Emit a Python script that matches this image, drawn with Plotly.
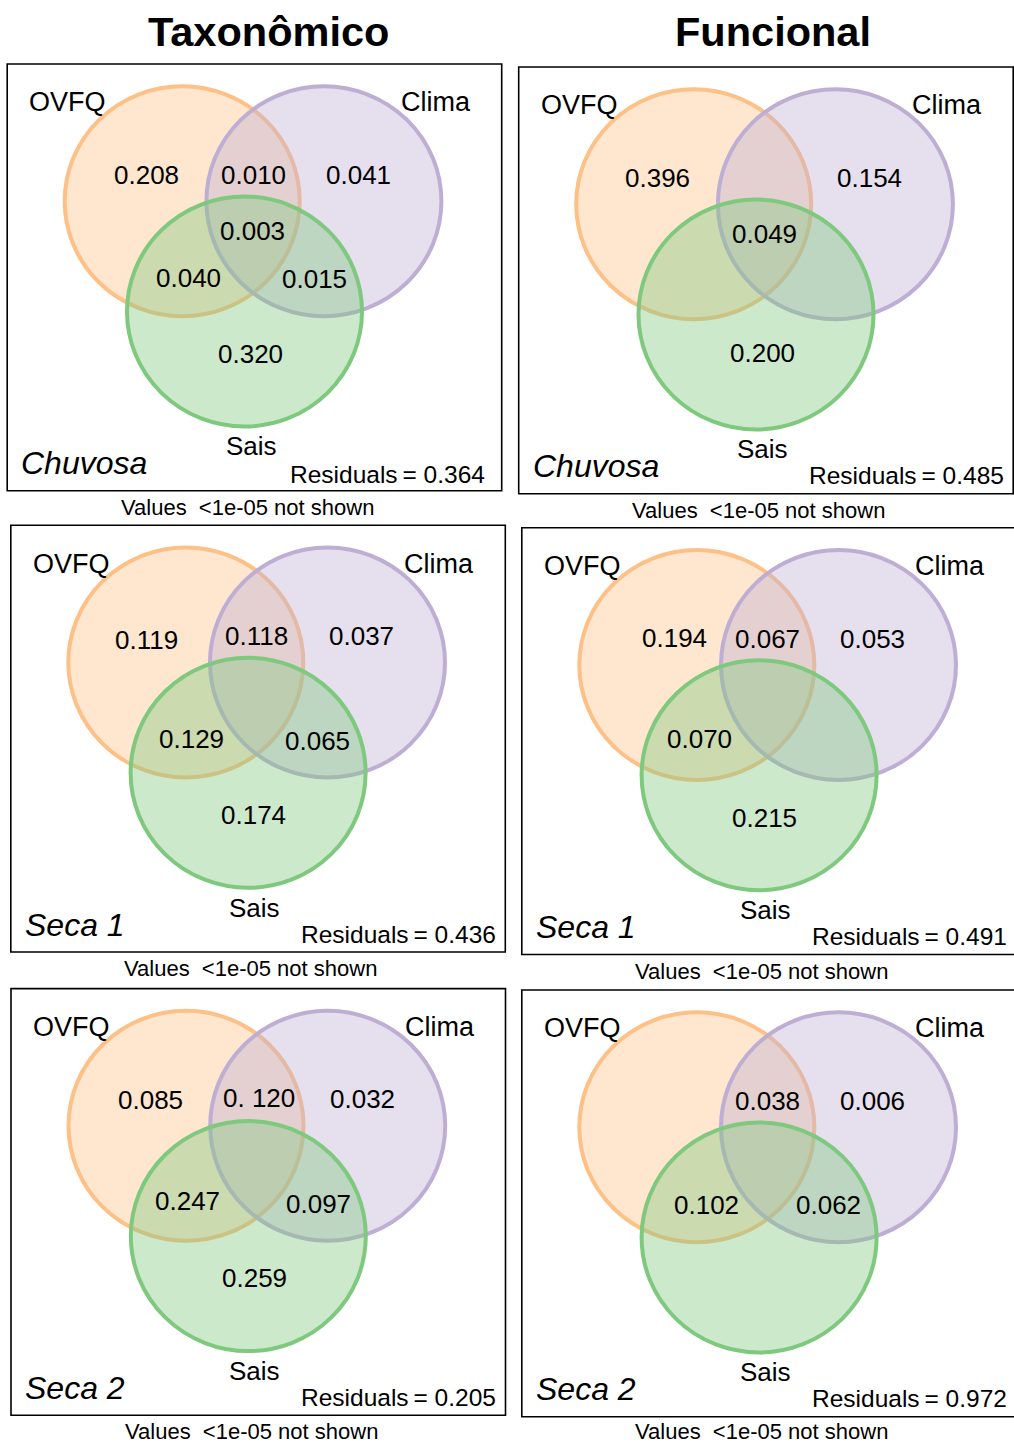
import plotly.graph_objects as go

# ---- data ---------------------------------------------------------------
columns = ["Taxonômico", "Funcional"]
seasons = ["Chuvosa", "Seca 1", "Seca 2"]
sets = ["OVFQ", "Clima", "Sais"]

# Venn regions: a = OVFQ only, ab = OVFQ∩Clima, b = Clima only,
# abc = all three, ac = OVFQ∩Sais, bc = Clima∩Sais, c = Sais only
regions = ["a", "ab", "b", "abc", "ac", "bc", "c"]

tax_chuvosa = [0.208, 0.010, 0.041, 0.003, 0.040, 0.015, 0.320]
tax_seca1 = [0.119, 0.118, 0.037, None, 0.129, 0.065, 0.174]
tax_seca2 = [0.085, 0.120, 0.032, None, 0.247, 0.097, 0.259]
fun_chuvosa = [0.396, None, 0.154, 0.049, None, None, 0.200]
fun_seca1 = [0.194, 0.067, 0.053, None, 0.070, None, 0.215]
fun_seca2 = [None, 0.038, 0.006, None, 0.102, 0.062, None]

tax_residuals = [0.364, 0.436, 0.205]
fun_residuals = [0.485, 0.491, 0.972]

footnote = "Values\u00a0 <1e-05 not shown"

# ---- layout -------------------------------------------------------------
W, H = 1014, 1444
FONT = "Liberation Sans, Arial, sans-serif"

# centre of the OVFQ circle for each panel (pixels)
origins = {
    ("Taxonômico", "Chuvosa"): (182.2, 201.2),
    ("Funcional", "Chuvosa"): (693.7, 204.2),
    ("Taxonômico", "Seca 1"): (185.8, 662.5),
    ("Funcional", "Seca 1"): (696.8, 665.0),
    ("Taxonômico", "Seca 2"): (186.0, 1125.8),
    ("Funcional", "Seca 2"): (696.8, 1127.2),
}
circle_offsets = {"OVFQ": (0, 0), "Clima": (141.7, 0), "Sais": (62.3, 110.3)}
RX, RY = 117.5, 115.0
circle_style = {
    "OVFQ": ("#FDC086", "rgba(253,192,134,0.40)"),
    "Clima": ("#BEAED4", "rgba(190,174,212,0.40)"),
    "Sais": ("#7FC97F", "rgba(127,201,127,0.40)"),
}
set_label_offsets = {"OVFQ": (-114.5, -99), "Clima": (253.5, -99), "Sais": (68.8, 245)}

region_offsets = {
    "a": (-36, -26), "ab": (71, -26.5), "b": (176, -26.5), "abc": (70.5, 30),
    "ac": (6, 76.5), "bc": (132, 78), "c": (68, 152.5),
}
region_overrides = {
    ("Taxonômico", "Seca 1", "a"): (-39.5, -22.5),
    ("Funcional", "Seca 1", "a"): (-22.6, -26.7),
    ("Funcional", "Seca 1", "ac"): (2.7, 74.3),
    ("Taxonômico", "Seca 2", "ac"): (1.8, 75.2),
    ("Taxonômico", "Seca 2", "ab"): (73.2, -27.5),
    ("Funcional", "Chuvosa", "c"): (68.5, 148.8),
    ("Funcional", "Seca 2", "ac"): (9.5, 77.8),
}
label_text_overrides = {("Taxonômico", "Seca 2", "ab"): "0. 120"}

BOX = (-175.0, -137.2, 319.5, 289.5)
SEASON_POS = (-162, 262)
RESID_POS = (311, 271.5)
resid_overrides = {("Taxonômico", "Chuvosa"): (303.5, 272.8)}
FOOT_POS = (65, 306.2)
FOOT_MAX_Y = H - 13  # keep the bottom footnotes fully inside the page

values = {
    "Taxonômico": dict(zip(seasons, [tax_chuvosa, tax_seca1, tax_seca2])),
    "Funcional": dict(zip(seasons, [fun_chuvosa, fun_seca1, fun_seca2])),
}
residuals = {
    "Taxonômico": dict(zip(seasons, tax_residuals)),
    "Funcional": dict(zip(seasons, fun_residuals)),
}

shapes = []
annotations = []


def text(x, y, s, size, xanchor="center", italic=False, bold=False):
    annotations.append(dict(
        x=x, y=y, xref="x", yref="y", text=s, showarrow=False,
        xanchor=xanchor, yanchor="middle", borderpad=0,
        font=dict(family=FONT, size=size, color="black",
                  style="italic" if italic else "normal",
                  weight="bold" if bold else "normal"),
    ))


for col in columns:
    for season in seasons:
        ox, oy = origins[(col, season)]
        # frame
        shapes.append(dict(type="rect", xref="x", yref="y",
                           x0=ox + BOX[0], y0=oy + BOX[1], x1=ox + BOX[2], y1=oy + BOX[3],
                           line=dict(color="black", width=1.6), fillcolor="rgba(0,0,0,0)",
                           layer="below"))
        # circles
        for s in sets:
            dx, dy = circle_offsets[s]
            line_c, fill_c = circle_style[s]
            shapes.append(dict(type="circle", xref="x", yref="y",
                               x0=ox + dx - RX, x1=ox + dx + RX,
                               y0=oy + dy - RY, y1=oy + dy + RY,
                               line=dict(color=line_c, width=4), fillcolor=fill_c,
                               layer="above"))
        # set names
        for s in sets:
            dx, dy = set_label_offsets[s]
            text(ox + dx, oy + dy, s, 27 if s != "Sais" else 26)
        # region values
        for r, v in zip(regions, values[col][season]):
            if v is None:
                continue
            dx, dy = region_overrides.get((col, season, r), region_offsets[r])
            label = label_text_overrides.get((col, season, r), f"{v:.3f}")
            text(ox + dx, oy + dy, label, 26)
        # season name
        text(ox + SEASON_POS[0], oy + SEASON_POS[1], season, 32, xanchor="left", italic=True)
        # residuals
        rx, ry = resid_overrides.get((col, season), RESID_POS)
        text(ox + rx, oy + ry, f"Residuals\u2009= {residuals[col][season]:.3f}", 24.5, xanchor="right")
        # footnote
        text(ox + FOOT_POS[0], min(oy + FOOT_POS[1], FOOT_MAX_Y), footnote, 22)

# column titles
text(268.3, 31, columns[0], 41.5, bold=True)
text(772.8, 31, columns[1], 41.5, bold=True)

fig = go.Figure()
fig.update_layout(
    width=W, height=H, autosize=False,
    margin=dict(l=0, r=0, t=0, b=0, pad=0),
    paper_bgcolor="white", plot_bgcolor="white",
    xaxis=dict(range=[0, W], visible=False, fixedrange=True),
    yaxis=dict(range=[H, 0], visible=False, fixedrange=True),
    shapes=shapes, annotations=annotations, showlegend=False,
)
fig.write_html("out.html")
